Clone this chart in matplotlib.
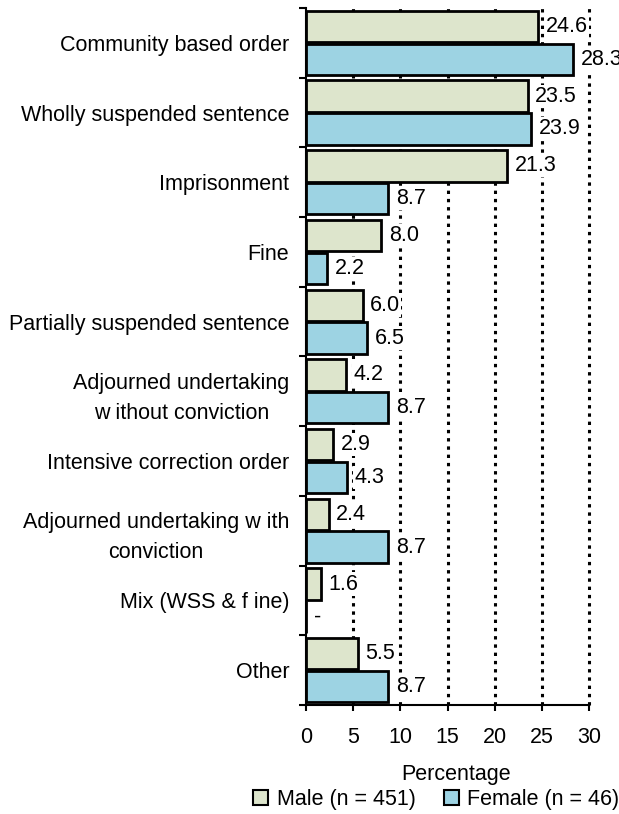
import numpy as np
import matplotlib
matplotlib.use('Agg')
import matplotlib.pyplot as plt
from matplotlib.patches import Patch

# Sentence outcomes by sex (percent)
categories = [
    'Community based order',
    'Wholly suspended sentence',
    'Imprisonment',
    'Fine',
    'Partially suspended sentence',
    'Adjourned undertaking\nw ithout conviction',
    'Intensive correction order',
    'Adjourned undertaking w ith\nconviction',
    'Mix (WSS & f ine)',
    'Other',
]
male = [24.6, 23.5, 21.3, 8.0, 6.0, 4.2, 2.9, 2.4, 1.6, 5.5]
female = [28.3, 23.9, 8.7, 2.2, 6.5, 8.7, 4.3, 8.7, 0.0, 8.7]
series_names = ['Male (n = 451)', 'Female (n = 46)']
x_ticks = [0, 5, 10, 15, 20, 25, 30]

male_color = '#DDE5CC'
female_color = '#9DD3E3'

plt.rcParams['font.family'] = ['Liberation Sans', 'DejaVu Sans']
fs = 15.5

fig = plt.figure(figsize=(6.19, 8.14), dpi=100)
ax = fig.add_axes([306 / 619, 1 - 705 / 814, (589 - 306) / 619, (705 - 8) / 814])

y = np.arange(len(categories))
h = 0.45
off = 0.235
ax.barh(y - off, male, height=h, color=male_color, edgecolor='black', linewidth=2, zorder=3)
ax.barh(y + off, female, height=h, color=female_color, edgecolor='black', linewidth=2, zorder=3)

# value labels with white boxes (they cover the gridlines)
for yy, v in zip(y - off, male):
    ax.annotate(f'{v:.1f}', (v, yy), xytext=(5.5, 0), textcoords='offset points',
                va='center', ha='left', fontsize=fs, zorder=4, annotation_clip=False,
                bbox=dict(boxstyle='square,pad=0.05', fc='white', ec='none'))
for yy, v in zip(y + off, female):
    txt = '-' if v == 0 else f'{v:.1f}'
    ax.annotate(txt, (v, yy), xytext=(5.5, 0), textcoords='offset points',
                va='center', ha='left', fontsize=fs, zorder=4, annotation_clip=False,
                bbox=dict(boxstyle='square,pad=0.05', fc='white', ec='none'))

# dotted gridlines
for xv in x_ticks[1:]:
    ax.axvline(xv, color='black', linewidth=2.2, linestyle=(0, (1.1, 1.6)), zorder=1,
               clip_on=False)

ax.set_xlim(0, 30)
ax.set_ylim(len(categories) - 0.5, -0.5)
ax.set_xticks(x_ticks)
ax.tick_params(axis='x', labelsize=fs, length=4, width=1.5, direction='out', pad=12)

ax.set_yticks(y)
ax.set_yticklabels(categories, fontsize=fs)
ax.set_yticks(np.arange(-0.5, len(categories), 1), minor=True)
ax.tick_params(axis='y', which='major', length=0, pad=12)
ax.tick_params(axis='y', which='minor', length=5, width=1.5, direction='out')
for lbl in ax.get_yticklabels():
    lbl.set_multialignment('center')
    lbl.set_linespacing(1.55)

for s in ['top', 'right']:
    ax.spines[s].set_visible(False)
for s in ['left', 'bottom']:
    ax.spines[s].set_linewidth(1.5)

ax.set_xlabel('Percentage', fontsize=fs)
ax.xaxis.set_label_coords(0.53, -0.085)

handles = [Patch(facecolor=male_color, edgecolor='black', linewidth=1.5),
           Patch(facecolor=female_color, edgecolor='black', linewidth=1.5)]
fig.legend(handles, series_names, loc='center', bbox_to_anchor=(0.705, 0.018), ncol=2,
           frameon=False, fontsize=fs, handlelength=0.7, handleheight=0.7,
           handletextpad=0.4, columnspacing=1.3)

fig.savefig('out.png', dpi=100)
